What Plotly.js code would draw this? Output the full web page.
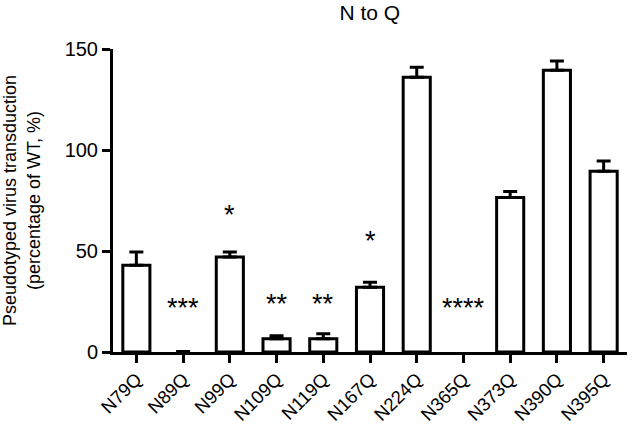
<!DOCTYPE html>
<html>
<head>
<meta charset="utf-8">
<script src="https://cdn.plot.ly/plotly-3.0.1.min.js"></script>
<style>
  body { margin: 0; background: #fff; }
  #chart { width: 632px; height: 425px; }
</style>
</head>
<body>
<div id="chart"></div>
<script>
// mutants and transduction values (percentage of WT)
var mutants = ["N79Q", "N89Q", "N99Q", "N109Q", "N119Q", "N167Q", "N224Q", "N365Q", "N373Q", "N390Q", "N395Q"];
var transduction = [43, 0, 47, 6.5, 6.5, 32, 136, 0, 76.5, 139.5, 89.5];
var sem = [6.5, 0.3, 2.5, 1.5, 2.5, 2.5, 5, null, 3, 4.5, 5];

// significance marks
var starLabels = ["***", "*", "**", "**", "*", "****"];
var starMutants = ["N89Q", "N99Q", "N109Q", "N119Q", "N167Q", "N365Q"];
var starHeights = [22, 68, 24, 24, 55, 22];

var font = "Liberation Sans, Arial, sans-serif";

// a point with no sem has nothing drawn at all (N365Q)
var plotY = transduction.map(function (v, i) { return sem[i] === null ? null : v; });

var bars = {
  type: "bar",
  x: mutants,
  y: plotY,
  width: 0.58,
  marker: {
    color: "#ffffff",
    line: { color: "#000000", width: transduction.map(function (v) { return v > 0 ? 3 : 0; }) }
  },
  error_y: {
    type: "data",
    symmetric: false,
    array: sem,
    arrayminus: sem.map(function () { return 0; }),
    color: "#000000",
    thickness: 3,
    width: 7
  },
  hoverinfo: "skip"
};

var stars = [];
for (var i = 0; i < starLabels.length; i++) {
  stars.push({
    x: starMutants[i],
    y: starHeights[i],
    text: starLabels[i],
    showarrow: false,
    font: { family: font, size: 27, color: "#000" },
    yanchor: "middle"
  });
}

var layout = {
  width: 632,
  height: 425,
  margin: { l: 113, r: 5, t: 49, b: 73 },
  paper_bgcolor: "#fff",
  plot_bgcolor: "#fff",
  font: { family: font, color: "#000" },
  showlegend: false,
  title: {
    text: "N to Q",
    font: { family: font, size: 21 },
    x: 0.585,
    xanchor: "center",
    y: 0.97,
    yanchor: "middle"
  },
  xaxis: {
    range: [-0.5, 10.5],
    showline: true,
    linecolor: "#000",
    linewidth: 3,
    ticks: "outside",
    ticklen: 8,
    tickwidth: 3,
    tickcolor: "#000",
    tickangle: -45,
    ticklabelstandoff: -2,
    tickfont: { family: font, size: 18.5 },
    showgrid: false,
    zeroline: false
  },
  yaxis: {
    range: [0, 150],
    tickvals: [0, 50, 100, 150],
    showline: true,
    linecolor: "#000",
    linewidth: 3,
    ticks: "outside",
    ticklen: 8,
    tickwidth: 3,
    tickcolor: "#000",
    tickfont: { family: font, size: 20 },
    showgrid: false,
    zeroline: false,
    title: {
      text: "Pseudotyped virus transduction<br>(percentage of WT, %)",
      font: { family: font, size: 18 },
      standoff: 20
    }
  },
  annotations: stars
};

Plotly.newPlot("chart", [bars], layout, { displayModeBar: false, staticPlot: true });
</script>
</body>
</html>
